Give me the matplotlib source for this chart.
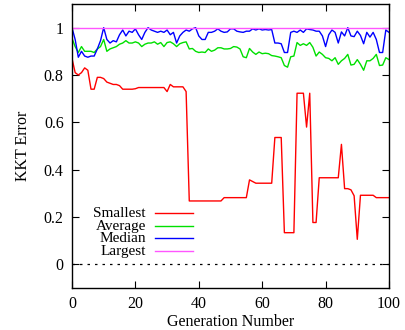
import numpy as np
import matplotlib
matplotlib.use('Agg')
import matplotlib.pyplot as plt

plt.rcParams['font.family'] = ['Liberation Serif', 'DejaVu Serif']
plt.rcParams['font.size'] = 11.5

generations = np.arange(0, 101)

smallest = [0.87, 0.81, 0.80, 0.81, 0.83, 0.82, 0.74, 0.74, 0.79, 0.79,
            0.785, 0.77, 0.765, 0.76, 0.76, 0.755, 0.74, 0.74, 0.74, 0.74,
            0.742, 0.747, 0.747, 0.747, 0.747, 0.747, 0.747, 0.747, 0.747, 0.747,
            0.73, 0.76, 0.75, 0.75, 0.75, 0.75, 0.73, 0.268, 0.268, 0.268,
            0.268, 0.268, 0.268, 0.268, 0.268, 0.268, 0.268, 0.268, 0.282, 0.282,
            0.282, 0.282, 0.282, 0.282, 0.282, 0.282, 0.357, 0.35, 0.343, 0.343,
            0.343, 0.343, 0.343, 0.343, 0.536, 0.536, 0.536, 0.134, 0.134, 0.134,
            0.134, 0.723, 0.723, 0.723, 0.58, 0.723, 0.177, 0.177, 0.366, 0.366,
            0.366, 0.366, 0.366, 0.366, 0.366, 0.507, 0.32, 0.32, 0.315, 0.29,
            0.106, 0.292, 0.292, 0.292, 0.292, 0.292, 0.282, 0.282, 0.282, 0.282,
            0.282]

average = [0.955, 0.92, 0.895, 0.92, 0.90, 0.90, 0.90, 0.895, 0.91, 0.92,
           0.95, 0.90, 0.91, 0.915, 0.92, 0.93, 0.935, 0.945, 0.935, 0.935,
           0.94, 0.935, 0.92, 0.93, 0.935, 0.935, 0.94, 0.93, 0.937, 0.92,
           0.937, 0.94, 0.932, 0.92, 0.932, 0.937, 0.94, 0.91, 0.912, 0.90,
           0.895, 0.897, 0.895, 0.91, 0.90, 0.905, 0.915, 0.915, 0.91, 0.91,
           0.912, 0.92, 0.918, 0.91, 0.877, 0.873, 0.912, 0.897, 0.887, 0.897,
           0.89, 0.892, 0.89, 0.882, 0.88, 0.877, 0.873, 0.84, 0.833, 0.877,
           0.88, 0.937, 0.925, 0.932, 0.925, 0.937, 0.917, 0.88, 0.897, 0.887,
           0.873, 0.87, 0.86, 0.873, 0.845, 0.86, 0.87, 0.887, 0.842, 0.845,
           0.865, 0.845, 0.82, 0.86, 0.86, 0.87, 0.887, 0.84, 0.842, 0.873,
           0.865]

median = [1.0, 0.95, 0.875, 0.90, 0.88, 0.875, 0.88, 0.88, 0.91, 0.945,
          1.0, 0.95, 0.935, 0.945, 0.94, 0.97, 0.99, 0.965, 0.985, 0.98,
          0.995, 0.97, 0.95, 0.98, 1.0, 0.99, 0.985, 0.98, 0.985, 0.98,
          0.99, 0.97, 0.98, 0.935, 0.965, 0.98, 0.99, 0.985, 0.995, 1.0,
          0.965, 0.95, 0.95, 0.98, 0.98, 0.985, 0.995, 0.985, 0.98, 0.982,
          0.995, 0.995, 0.985, 0.982, 0.98, 0.985, 0.985, 0.995, 0.99, 0.995,
          0.99, 0.992, 0.99, 0.992, 0.935, 0.935, 0.932, 0.895, 0.895, 0.98,
          0.985, 0.98, 0.99, 0.98, 0.995, 0.992, 0.99, 0.985, 0.985, 0.965,
          0.92, 0.97, 0.99, 0.98, 0.935, 0.982, 0.965, 1.0, 0.965, 0.962,
          0.985, 0.967, 0.932, 0.98, 0.96, 0.98, 0.95, 0.895, 0.895, 0.99,
          0.98]

largest = [1.0] * 101

series = [
    ('Smallest', smallest, 'red'),
    ('Average', average, '#00e000'),
    ('Median', median, 'blue'),
    ('Largest', largest, '#ff55ff'),
]

fig = plt.figure(figsize=(4.06, 3.30), dpi=100)
ax = fig.add_axes([0.1773, 0.127, 0.7808, 0.861])

for name, vals, col in series:
    ax.plot(generations, vals, color=col, lw=1.0)

# zero reference
ax.axhline(0, color='black', lw=0.9, ls=(0, (2, 4)))

ax.set_xlim(0, 100)
ax.set_ylim(-0.1, 1.1)
ax.set_xticks([0, 20, 40, 60, 80, 100])
ax.set_yticks([0, 0.2, 0.4, 0.6, 0.8, 1.0])
ax.set_yticklabels(['0', '0.2', '0.4', '0.6', '0.8', '1'])
ax.tick_params(direction='in', top=True, right=True, length=5, width=0.8, pad=6)
for s in ax.spines.values():
    s.set_linewidth(1.0)

ax.set_xlabel('Generation Number', labelpad=1)
ax.set_ylabel('KKT Error', labelpad=9)

# key: right-aligned names followed by line samples
key_y = [0.263, 0.218, 0.175, 0.130]
for (name, vals, col), yk in zip(series, key_y):
    ax.text(0.233, yk, name, transform=ax.transAxes, ha='right', va='center',
            fontsize=11)
    ax.plot([0.262, 0.382], [yk, yk], transform=ax.transAxes, color=col, lw=1.0)

fig.savefig('out.png', dpi=100)
